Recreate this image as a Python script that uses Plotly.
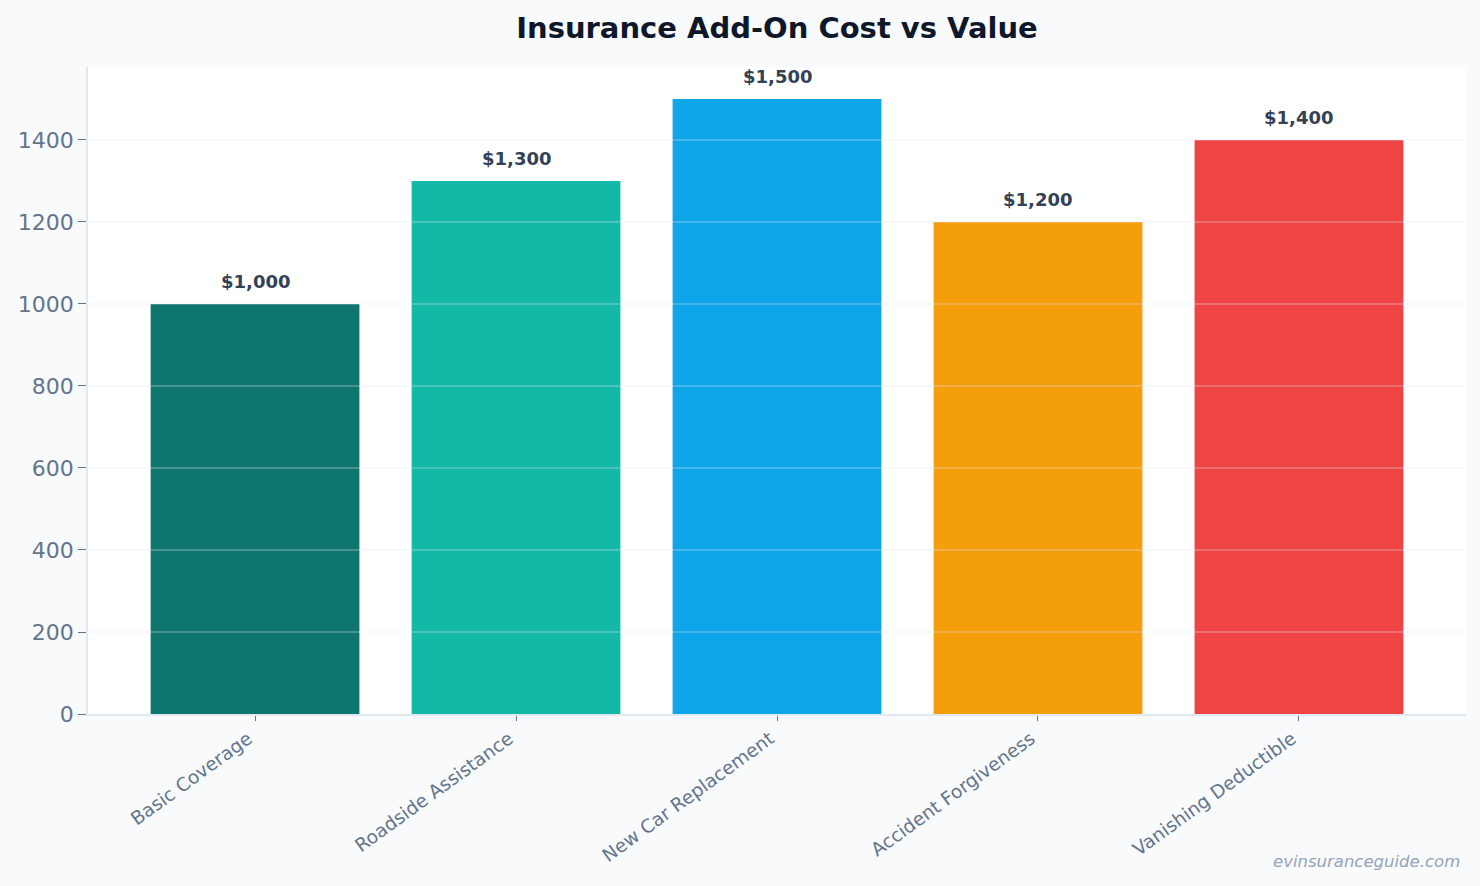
import plotly.graph_objects as go

categories = ["Basic Coverage", "Roadside Assistance", "New Car Replacement",
              "Accident Forgiveness", "Vanishing Deductible"]
values = [1000, 1300, 1500, 1200, 1400]
labels = ["$1,000", "$1,300", "$1,500", "$1,200", "$1,400"]
colors = ["#0f766e", "#14b8a6", "#0ea5e9", "#f59e0b", "#ef4444"]
grid_vals = [200, 400, 600, 800, 1000, 1200, 1400]

FONT = "DejaVu Sans"

fig = go.Figure(go.Bar(
    x=categories, y=values, marker=dict(color=colors, line=dict(width=0)),
    width=0.8, hoverinfo="x+y",
))

for c, v, t in zip(categories, values, labels):
    fig.add_annotation(x=c, y=v, text=f"<b>{t}</b>", showarrow=False,
                       yanchor="bottom", yshift=10,
                       font=dict(family=FONT, size=18, color="#334155"))

for g in grid_vals:
    fig.add_shape(type="line", xref="paper", x0=0, x1=1, yref="y", y0=g, y1=g,
                  line=dict(color="rgba(226,232,240,0.35)", width=1.5), layer="above")

fig.update_layout(
    width=1480, height=886,
    paper_bgcolor="#f8fafc", plot_bgcolor="#ffffff",
    margin=dict(l=88, r=14, t=67, b=172),
    title=dict(text="<b>Insurance Add-On Cost vs Value</b>", xref="paper", x=0.5,
               xanchor="center", y=0.969, yanchor="middle",
               font=dict(family=FONT, size=29, color="#0f172a")),
    showlegend=False,
    xaxis=dict(range=[-0.64, 4.64], tickangle=-36, showgrid=False,
               showline=True, linecolor="#e2e8f0", linewidth=1.5,
               ticks="outside", tickcolor="#64748b", ticklen=5,
               ticklabelshift=-7,
               tickfont=dict(family=FONT, size=18.6, color="#64748b")),
    yaxis=dict(range=[0, 1578], tickvals=[0] + grid_vals, showgrid=False,
               zeroline=False,
               showline=True, linecolor="#e2e8f0", linewidth=1.5,
               ticks="outside", tickcolor="#64748b", ticklen=8,
               tickfont=dict(family=FONT, size=22, color="#64748b")),
    annotations=list(fig.layout.annotations) + [dict(
        text="<i>evinsuranceguide.com</i>", xref="paper", yref="paper",
        x=1.0, y=-0.228, xanchor="right", yanchor="middle", showarrow=False,
        xshift=-4, font=dict(family=FONT, size=16.5, color="#94a3b8"))],
)

fig.write_html("out.html")
